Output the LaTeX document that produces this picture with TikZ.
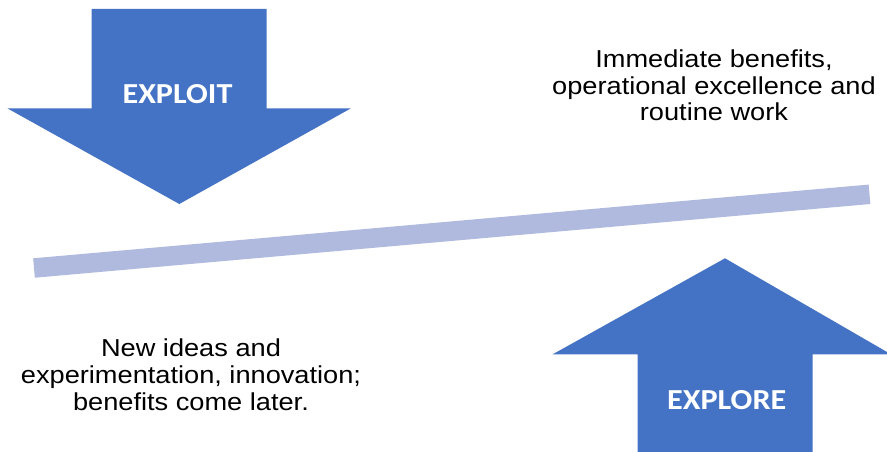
\documentclass[tikz,border=0pt]{standalone}
\usepackage{fontspec}
\setmainfont[FakeStretch=1.11]{Liberation Sans}
\newfontfamily\calibri[FakeStretch=1.11]{Carlito}
\definecolor{arrowblue}{HTML}{4472C4}
\definecolor{barblue}{RGB}{176,186,222}
\begin{document}
\begin{tikzpicture}[x=1pt,y=-1pt,
  bigarrow/.style={fill=arrowblue, draw=none},
  arrowlabel/.style={font=\calibri\bfseries\fontsize{29}{35}\selectfont, text=white, anchor=base, inner sep=0pt},
  note/.style={font=\fontsize{24.5}{26.8}\selectfont, align=center, anchor=north, inner sep=0pt, text=black}]
\useasboundingbox (0,0) rectangle (887,452);
% exploit arrow (down)
\fill[bigarrow] (91.5,9) -- (266.5,9) -- (266.5,108.3) -- (351,108.3) -- (179.3,204)
  -- (7.3,108.3) -- (91.5,108.3) -- cycle;
% explore arrow (up)
\fill[bigarrow] (637.5,460) -- (637.5,354.3) -- (552.7,354.3) -- (725,258.3)
  -- (887,352) -- (887,354.3) -- (812.5,354.3) -- (812.5,460) -- cycle;
% balance bar
\coordinate (barL) at (34,268);
\coordinate (barR) at (869.5,194.3);
\draw[barblue, line width=19.5pt] (barL) -- (barR);
\node[arrowlabel] (exploit) at (177.5,103.3) {EXPLOIT};
\node[arrowlabel] (explore) at (726.7,409.3) {EXPLORE};
\node[note] (imm) at (714,49.3) {Immediate benefits,\\operational excellence and\\routine work};
\node[note] (new) at (191,338.9) {New ideas and\\experimentation, innovation;\\benefits come later.};
\end{tikzpicture}
\end{document}
